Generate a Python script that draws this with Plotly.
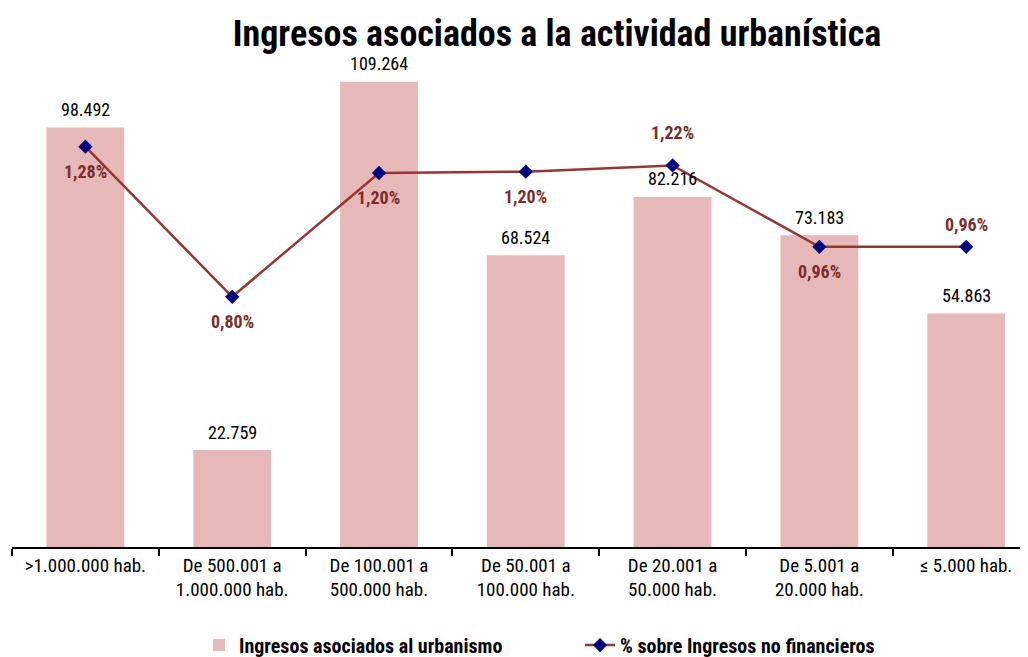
import plotly.graph_objects as go

categories = [">1.000.000 hab.", "De 500.001 a<br>1.000.000 hab.", "De 100.001 a<br>500.000 hab.",
              "De 50.001 a<br>100.000 hab.", "De 20.001 a<br>50.000 hab.", "De 5.001 a<br>20.000 hab.",
              "≤ 5.000 hab."]
ingresos = [98492, 22759, 109264, 68524, 82216, 73183, 54863]
porcentaje = [1.28, 0.80, 1.196, 1.20, 1.22, 0.96, 0.96]
pct_label_pos = ["below", "below", "below", "below", "above", "below", "above"]

FONT = "Roboto Condensed, Liberation Sans Narrow, Arial Narrow, sans-serif"

fig = go.Figure()
fig.add_trace(go.Bar(
    x=categories, y=ingresos, name="Ingresos asociados al urbanismo",
    marker=dict(color="#E6B9B8", line=dict(width=0)),
))
fig.add_trace(go.Scatter(
    x=categories, y=porcentaje, name="% sobre Ingresos no financieros", yaxis="y2",
    mode="lines+markers",
    line=dict(color="#953735", width=2.5),
    marker=dict(symbol="diamond", size=11, color="#000080"),
))

for c, v in zip(categories, ingresos):
    fig.add_annotation(
        x=c, y=v, xref="x", yref="y", text=f"{v:,}".replace(",", "."),
        showarrow=False, yanchor="middle", yshift=18,
        font=dict(family=FONT, size=18, color="#000000"),
    )

for c, v, pos in zip(categories, porcentaje, pct_label_pos):
    fig.add_annotation(
        x=c, y=v, xref="x", yref="y2", text=f"{v:.2f}".replace(".", ",") + "%",
        showarrow=False, yshift=(-25 if pos == "below" else 33 if v > 1.1 else 22),
        font=dict(family=FONT, size=18, color="#7B2C2C", weight="bold"),
    )

fig.update_layout(
    width=1028, height=657,
    margin=dict(l=4, r=2, t=28, b=118, autoexpand=False),
    paper_bgcolor="white", plot_bgcolor="white",
    separators=",.",
    bargap=0.47,
    font=dict(family=FONT, size=18, color="#000000"),
    title=dict(text="<b>Ingresos asociados a la actividad urbanística</b>",
               x=549 / 1028, xanchor="center", y=1 - 25 / 657, yanchor="middle", yref="container",
               font=dict(family=FONT, size=36, color="#000000")),
    xaxis=dict(type="category", range=[-0.5, 6.462], showline=True, linecolor="#000000", linewidth=1.5,
               ticks="outside", tickson="boundaries", ticklen=7, tickcolor="#000000", tickwidth=1.5,
               tickangle=0,
               showgrid=False, automargin=False, tickfont=dict(family=FONT, size=19, color="#000000")),
    yaxis=dict(range=[0, 120000], visible=False, showgrid=False, automargin=False),
    yaxis2=dict(range=[0, 1.634], overlaying="y", side="right", visible=False, showgrid=False,
                automargin=False),
    showlegend=True,
    legend=dict(orientation="h", x=0.183, xanchor="left", y=-0.192, yanchor="middle",
                entrywidth=336, entrywidthmode="pixels",
                font=dict(family=FONT, size=20, color="#000000", weight="bold"),
                bgcolor="rgba(0,0,0,0)"),
)

fig.write_html("out.html")
